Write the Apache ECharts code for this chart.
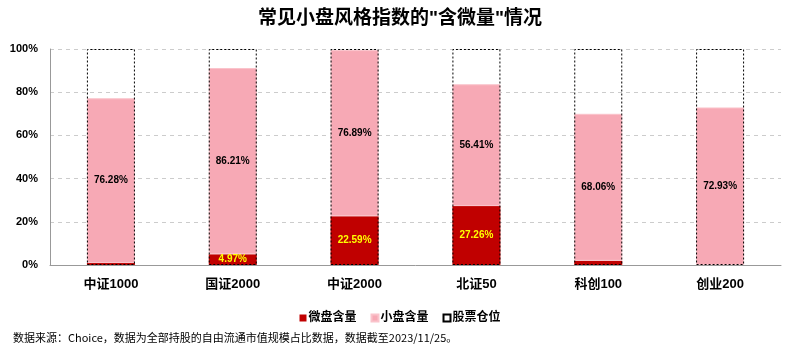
<!DOCTYPE html>
<html><head><meta charset="utf-8">
<script src="https://cdn.jsdelivr.net/npm/echarts@6/dist/echarts.min.js"></script>
<style>html,body{margin:0;padding:0;background:#fff}#c{width:800px;height:355px}</style>
</head><body><div id="c"></div>
<script>
const categories = ['中证1000','国证2000','中证2000','北证50','科创100','创业200'];
const microValues = [0.9, 4.97, 22.59, 27.26, 1.94, 0];
const smallValues = [76.28, 86.21, 76.89, 56.41, 68.06, 72.93];
const positionValues = [100, 100, 100, 100, 100, 100];
const yTicks = [0, 20, 40, 60, 80, 100];
const microLabelShown = [false, true, true, true, false, false];

const FF = '"Liberation Sans", Arial, "Noto Sans CJK SC", sans-serif';
const chart = echarts.init(document.getElementById('c'));
chart.setOption({
  animation: false,
  title: {
    text: '常见小盘风格指数的"含微量"情况',
    left: 'center', top: 4,
    textStyle: { fontFamily: FF, fontSize: 19, fontWeight: 'bold', color: '#000' }
  },
  legend: {
    top: 307, left: 'center', icon: 'rect',
    itemWidth: 7, itemHeight: 7, itemGap: 14,
    textStyle: { fontFamily: FF, fontSize: 12, fontWeight: 'bold', color: '#000', padding: [0,0,0,-3] },
    data: ['微盘含量', '小盘含量', '股票仓位']
  },
  graphic: [{
    type: 'text', left: 13, top: 332,
    style: { text: '数据来源：Choice，数据为全部持股的自由流通市值规模占比数据，数据截至2023/11/25。',
      font: '11px "Noto Sans CJK SC", sans-serif', fill: '#000' }
  }],
  grid: { left: 50, right: 19, top: 49, bottom: 90 },
  xAxis: {
    type: 'category', data: categories,
    axisLine: { lineStyle: { color: '#999' } },
    axisTick: { inside: true, length: 5, lineStyle: { color: '#999' } },
    axisLabel: { fontFamily: FF, fontSize: 13, fontWeight: 'bold', color: '#000', margin: 13 }
  },
  yAxis: {
    type: 'value', min: yTicks[0], max: yTicks[yTicks.length-1], interval: 20,
    axisLine: { show: true, lineStyle: { color: '#999' } },
    axisTick: { show: false },
    splitLine: { lineStyle: { type: [4,4], color: '#ccc' } },
    axisLabel: { formatter: '{value}%', fontFamily: FF, fontSize: 11, fontWeight: 'bold', color: '#000', margin: 12 }
  },
  series: [
    {
      name: '微盘含量', type: 'bar', stack: 'a', barWidth: 48,
      itemStyle: { color: '#C00000' },
      data: microValues.map((v, i) => ({
        value: v,
        label: { show: microLabelShown[i], position: 'inside', formatter: v.toFixed(2) + '%',
          color: '#FFFF00', fontFamily: FF, fontSize: 10, fontWeight: 'bold' }
      }))
    },
    {
      name: '小盘含量', type: 'bar', stack: 'a', barWidth: 48,
      itemStyle: { color: '#F7A9B5', borderColor: '#FAC3CB', borderWidth: 1 },
      label: { show: true, position: 'inside', formatter: p => p.value.toFixed(2) + '%',
        color: '#000', fontFamily: FF, fontSize: 10, fontWeight: 'bold' },
      data: smallValues
    },
    {
      name: '股票仓位', type: 'bar', barGap: '-100%', barWidth: 48, z: 5,
      itemStyle: { color: 'rgba(255,255,255,0)', borderColor: '#000', borderWidth: 1, borderType: [2,2] },
      data: positionValues
    }
  ]
});
</script></body></html>
